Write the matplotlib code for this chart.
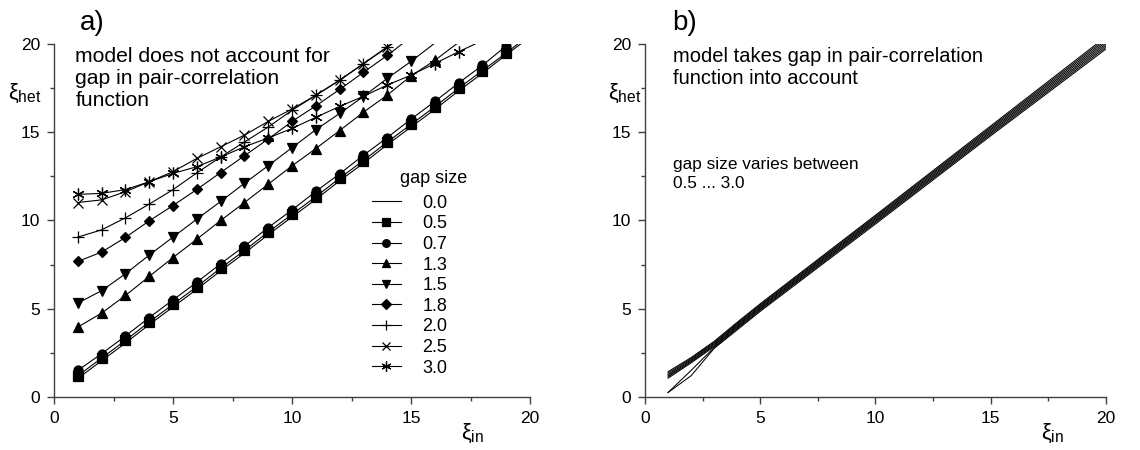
import numpy as np
import matplotlib
matplotlib.use("Agg")
import matplotlib.pyplot as plt
from matplotlib.lines import Line2D

plt.rcParams['font.family'] = ['Liberation Sans', 'DejaVu Sans']
plt.rcParams['mathtext.fontset'] = 'custom'
plt.rcParams['mathtext.rm'] = 'Liberation Sans'
plt.rcParams['mathtext.it'] = 'Liberation Sans'

# -------------------------------
# data, panel a)  (xi_in = 1, 2, 3 ...; values read off the picture)
# -------------------------------
xi_in = [1, 2, 3, 4, 5, 6, 7, 8, 9, 10, 11, 12, 13, 14, 15, 16, 17, 18, 19, 20]
gap_labels = ["0.0", "0.5", "0.7", "1.3", "1.5", "1.8", "2.0", "2.5", "3.0"]
gap_00 = [1.05, 2.05, 3.05, 4.1, 5.1, 6.1, 7.15, 8.15, 9.2, 10.2, 11.2, 12.25, 13.25, 14.3, 15.3, 16.3, 17.35, 18.35, 19.4, 20.4]
gap_05 = [1.2, 2.2, 3.2, 4.25, 5.25, 6.25, 7.3, 8.3, 9.35, 10.35, 11.35, 12.4, 13.4, 14.45, 15.45, 16.45, 17.5, 18.5, 19.5, 20.55]
gap_07 = [1.5, 2.45, 3.45, 4.5, 5.5, 6.5, 7.55, 8.55, 9.6, 10.6, 11.65, 12.65, 13.7, 14.7, 15.75, 16.75, 17.8, 18.8, 19.9, 20.9]
gap_13 = [3.96, 4.75, 5.75, 6.83, 7.9, 8.94, 10.0, 11.02, 12.06, 13.1, 14.08, 15.1, 16.14, 17.11, 18.2, 19.08, 20.1]
gap_15 = [5.32, 6.02, 6.98, 8.04, 9.06, 10.08, 11.08, 12.11, 13.11, 14.13, 15.15, 16.07, 17.03, 18.06, 19.02, 20.06]
gap_18 = [7.68, 8.21, 9.04, 9.98, 10.85, 11.76, 12.72, 13.67, 14.62, 15.62, 16.5, 17.43, 18.4, 19.36, 20.4]
gap_20 = [9.06, 9.47, 10.15, 10.93, 11.75, 12.7, 13.6, 14.45, 15.3, 16.25, 17.1, 17.95, 18.9, 19.85, 20.8]
gap_25 = [11.02, 11.17, 11.63, 12.2, 12.77, 13.52, 14.18, 14.84, 15.62, 16.32, 17.1, 17.96, 18.88, 19.82, 20.75]
gap_30 = [11.48, 11.54, 11.75, 12.2, 12.67, 13.05, 13.6, 14.18, 14.68, 15.22, 15.85, 16.47, 17.04, 17.68, 18.24, 18.9, 19.57, 20.2]

# -------------------------------
# data, panel b)
# -------------------------------
xi_in_b = [1, 2, 3, 4, 5, 10, 15, 20]
b_05 = [0.25, 1.2, 2.75, 3.8, 4.85, 9.8, 14.8, 19.72]
b_07 = [0.25, 1.5, 2.8, 3.87, 4.92, 9.88, 14.88, 19.82]
b_13 = [1.06, 1.93, 2.85, 3.93, 4.98, 9.95, 14.96, 19.92]
b_15 = [1.13, 1.99, 2.91, 3.99, 5.04, 10.02, 15.04, 20.02]
b_18 = [1.2, 2.05, 2.97, 4.05, 5.1, 10.09, 15.12, 20.12]
b_20 = [1.27, 2.11, 3.03, 4.11, 5.16, 10.16, 15.2, 20.22]
b_25 = [1.35, 2.17, 3.09, 4.17, 5.22, 10.23, 15.28, 20.32]
b_30 = [1.43, 2.23, 3.15, 4.23, 5.28, 10.3, 15.36, 20.42]

series_a = [gap_00, gap_05, gap_07, gap_13, gap_15, gap_18, gap_20, gap_25, gap_30]
series_b = [b_05, b_07, b_13, b_15, b_18, b_20, b_25, b_30]
markers = [None, 's', 'o', '^', 'v', 'D', '+', 'x', (6, 2, 0)]
msizes = [0, 6.5, 6.5, 7, 7, 5.5, 8, 7, 8.5]

spine_col = '#404040'


def style_axes(ax):
    ax.set_xlim(0, 20)
    ax.set_ylim(0, 20)
    ax.set_xticks([0, 5, 10, 15, 20])
    ax.set_yticks([0, 5, 10, 15, 20])
    ax.set_xticks([2.5, 7.5, 12.5, 17.5], minor=True)
    ax.set_yticks([2.5, 7.5, 12.5, 17.5], minor=True)
    for s in ['top', 'right']:
        ax.spines[s].set_visible(False)
    for s in ['left', 'bottom']:
        ax.spines[s].set_color(spine_col)
        ax.spines[s].set_linewidth(1.0)
    ax.tick_params(which='major', direction='out', length=5, width=1.0,
                   color=spine_col, labelsize=12.5, pad=5)
    ax.tick_params(which='minor', direction='out', length=3, width=1.0,
                   color=spine_col)


fig = plt.figure(figsize=(11.4, 4.5), dpi=100)
ax1 = fig.add_axes([0.0474, 0.118, 0.4176, 0.784])
ax2 = fig.add_axes([0.5658, 0.118, 0.4043, 0.784])

# -------------------------------
# panel a)
# -------------------------------
x = np.array(xi_in, dtype=float)
handles = []
for y, m, ms, lab in zip(series_a, markers, msizes, gap_labels):
    y = np.array(y)
    xx = x[:len(y)]
    ax1.plot(xx, y, color='black', lw=0.8)
    if m is not None:
        keep = y <= 20
        ax1.plot(xx[keep], y[keep], ls='none', marker=m, ms=ms, color='black',
                 mfc='black', mew=0.9)
    handles.append(Line2D([], [], color='black', lw=0.8, marker=m, ms=ms * 0.85,
                          mew=0.9, label=lab))

style_axes(ax1)
ax1.legend(handles=handles, frameon=False, loc='upper left',
           bbox_to_anchor=(0.668, 0.573), borderpad=0, borderaxespad=0,
           fontsize=13, handlelength=1.6, handletextpad=1.2, labelspacing=0.2)
ax1.text(14.55, 12.4, "gap size", fontsize=13, va='center', ha='left')
ax1.text(0.9, 19.85, "model does not account for\ngap in pair-correlation\nfunction",
         fontsize=15.2, va='top', ha='left', linespacing=1.2)
ax1.text(-1.95, 17.2, r'$\xi_{\mathrm{het}}$', fontsize=16, va='center', ha='left',
         clip_on=False)
ax1.text(17.6, -2.05, r'$\xi_{\mathrm{in}}$', fontsize=16, va='center', ha='center',
         clip_on=False)

# -------------------------------
# panel b)
# -------------------------------
for y in series_b:
    ax2.plot(xi_in_b, y, color='black', lw=0.75)

style_axes(ax2)
ax2.text(1.2, 19.85, "model takes gap in pair-correlation\nfunction into account",
         fontsize=14.5, va='top', ha='left', linespacing=1.25)
ax2.text(1.2, 13.6, "gap size varies between\n0.5 ... 3.0",
         fontsize=12.4, va='top', ha='left', linespacing=1.3)
ax2.text(-1.6, 17.2, r'$\xi_{\mathrm{het}}$', fontsize=16, va='center', ha='left',
         clip_on=False)
ax2.text(17.7, -2.05, r'$\xi_{\mathrm{in}}$', fontsize=16, va='center', ha='center',
         clip_on=False)

fig.text(0.070, 0.933, "a)", fontsize=20, ha='left', va='baseline')
fig.text(0.590, 0.933, "b)", fontsize=20, ha='left', va='baseline')

fig.savefig("out.png", dpi=100)
